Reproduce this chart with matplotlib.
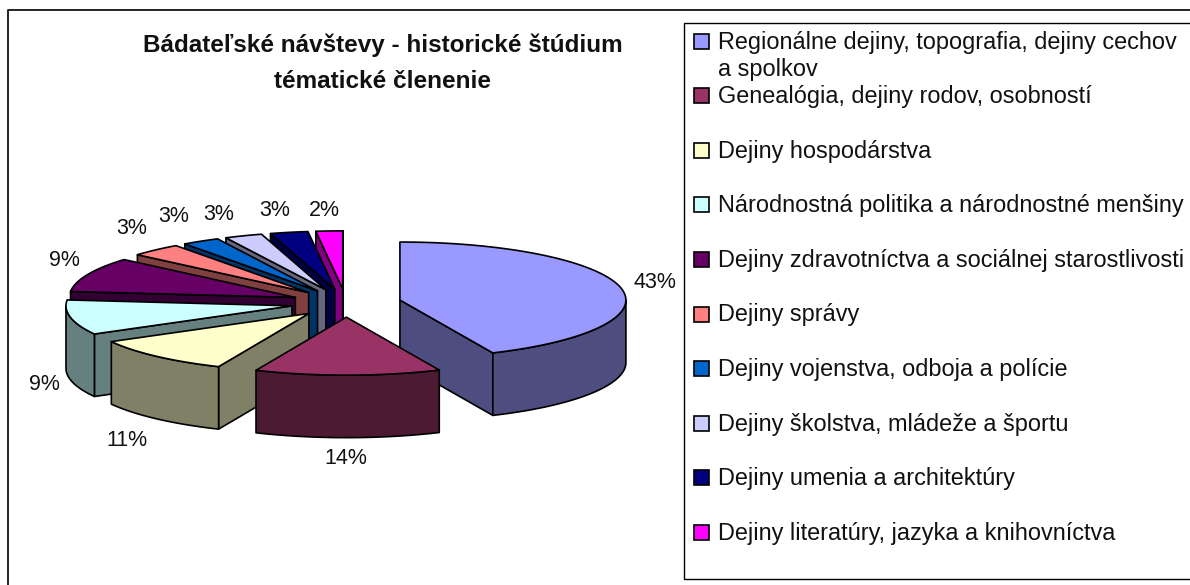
import numpy as np
import matplotlib
matplotlib.use('Agg')
import matplotlib.pyplot as plt
from matplotlib.patches import Rectangle

plt.rcParams['font.family'] = ['Liberation Sans', 'DejaVu Sans']

title = 'Bádateľské návštevy - historické štúdium\ntématické členenie'
categories = [
    'Regionálne dejiny, topografia, dejiny cechov\na spolkov',
    'Genealógia, dejiny rodov, osobností',
    'Dejiny hospodárstva',
    'Národnostná politika a národnostné menšiny',
    'Dejiny zdravotníctva a sociálnej starostlivosti',
    'Dejiny správy',
    'Dejiny vojenstva, odboja a polície',
    'Dejiny školstva, mládeže a športu',
    'Dejiny umenia a architektúry',
    'Dejiny literatúry, jazyka a knihovníctva',
]
# shares as seen on the perspective pie, labels as printed
shares = [43.3, 13.3, 10.4, 9.7, 9.7, 3.7, 2.7, 2.7, 2.7, 1.9]
percent_labels = ['43%', '14%', '11%', '9%', '9%', '3%', '3%', '3%', '3%', '2%']
top_colors = ['#9999FF', '#993366', '#FFFFCC', '#CCFFFF', '#660066',
              '#FF8080', '#0066CC', '#CCCCFF', '#000080', '#FF00FF']

W, H = 1190, 585
CX, CY = 346, 303
RX, RY = 226, 58
DEPTH = 62.5
EXPLODE = 0.244
LW = 1.2


def to_xy(theta, r, ox, oy):
    return ox + r * RX * np.sin(theta), oy - r * RY * np.cos(theta)


def wall(ax, theta, ox, oy, color):
    x, y = to_xy(theta, 1, ox, oy)
    ax.fill([ox, x, x, ox], [oy, y, y + DEPTH, oy + DEPTH], facecolor=color,
            edgecolor='black', lw=LW, joinstyle='round')


def draw_slice(ax, i, t1, t2):
    mid = (t1 + t2) / 2
    ox, oy = to_xy(mid, EXPLODE, CX, CY)
    side = tuple(c * 0.5 for c in matplotlib.colors.to_rgb(top_colors[i]))
    if np.sin(t1) < 0:
        wall(ax, t1, ox, oy, side)
    if np.sin(t2) > 0:
        wall(ax, t2, ox, oy, side)
    a, b = max(t1, np.pi / 2), min(t2, 1.5 * np.pi)
    if b > a:
        th = np.linspace(a, b, 80)
        x, y = to_xy(th, 1, ox, oy)
        ax.fill(np.r_[x, x[::-1]], np.r_[y, y[::-1] + DEPTH], facecolor=side,
                edgecolor='black', lw=LW, joinstyle='round')
    th = np.linspace(t1, t2, 80)
    x, y = to_xy(th, 1, ox, oy)
    ax.fill(np.r_[ox, x], np.r_[oy, y], facecolor=top_colors[i],
            edgecolor='black', lw=LW, joinstyle='round')


fig = plt.figure(figsize=(W / 100, H / 100), dpi=100)
ax = fig.add_axes([0, 0, 1, 1])
ax.set_xlim(0, W)
ax.set_ylim(H, 0)
ax.axis('off')

# chart frame
ax.plot([7.5, 7.5, W + 5], [H + 5, 9.5, 9.5], color='#222222', lw=1.4)

edges = np.r_[0, np.cumsum(shares)] / np.sum(shares) * 2 * np.pi
order = [0, 9, 8, 7, 6, 5, 4, 3, 2, 1]
for i in order:
    draw_slice(ax, i, edges[i], edges[i + 1])

# percent labels
label_xy = [(655, 283), (346, 458), (127, 440), (44, 384), (64, 261),
            (132, 229), (174, 217), (219, 215), (275, 211), (324, 210)]
for txt, (lx, ly) in zip(percent_labels, label_xy):
    ax.text(lx, ly, txt, ha='center', va='center', fontsize=15.5, color='#111111')

ax.text(383, 63, title, ha='center', va='center', fontsize=17.5, fontweight='bold',
        linespacing=1.7, color='#111111')

# legend
ax.add_patch(Rectangle((684, 23), W + 5 - 684, 556, facecolor='white', edgecolor='black', lw=1))
for i, cat in enumerate(categories):
    ky = 41 + i * 54.6
    ax.add_patch(Rectangle((694, ky - 7.5), 15, 15, facecolor=top_colors[i], edgecolor='black', lw=1.2))
    ax.text(718, ky - 10.5, cat, ha='left', va='top', fontsize=16.9, linespacing=1.27, color='#111111')

fig.savefig('out.png', dpi=100)
